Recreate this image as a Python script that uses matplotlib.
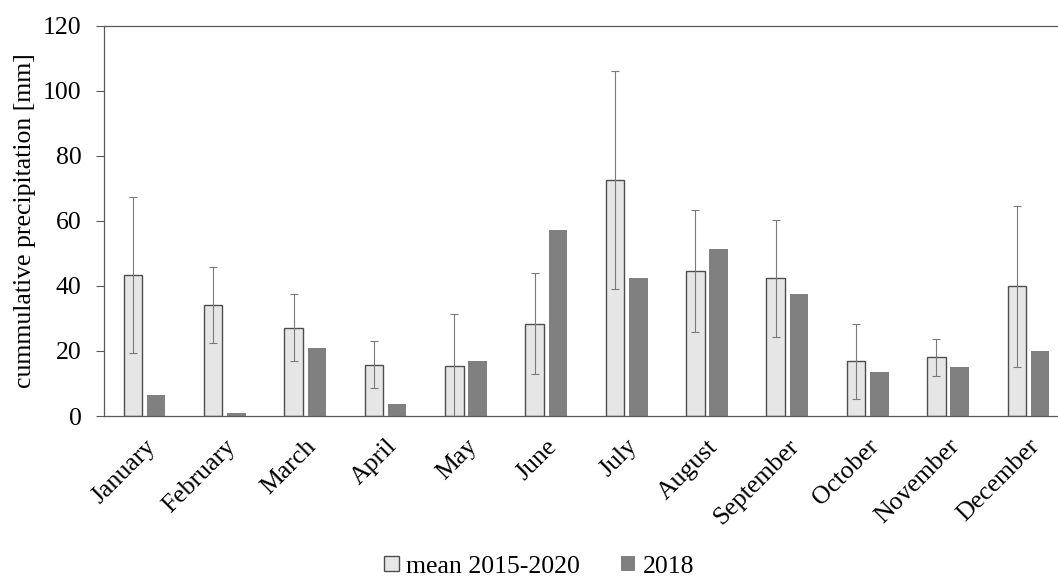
import numpy as np
import matplotlib
matplotlib.use('Agg')
from matplotlib import pyplot as plt

months = ['January', 'February', 'March', 'April', 'May', 'June', 'July',
          'August', 'September', 'October', 'November', 'December']
mean_2015_2020 = [43.3, 34.2, 27.2, 15.8, 15.4, 28.4, 72.6, 44.6, 42.3, 16.8, 18.0, 39.9]
sd_2015_2020 = [24.0, 11.7, 10.4, 7.3, 15.9, 15.6, 33.6, 18.7, 17.9, 11.6, 5.6, 24.8]
precip_2018 = [6.5, 0.8, 20.8, 3.7, 16.8, 57.2, 42.5, 51.4, 37.4, 13.5, 15.1, 20.0]
yticks = [0, 20, 40, 60, 80, 100, 120]

plt.rcParams['font.family'] = ['Liberation Serif', 'DejaVu Serif']
plt.rcParams['font.size'] = 18.5

fig = plt.figure(figsize=(10.58, 5.79), dpi=100)
ax = fig.add_axes([0.0986, 0.2815, 0.9114, 0.674])

x = np.arange(len(months))
w = 0.23
off = 0.145
axis_col = '#595959'

ax.bar(x - off, mean_2015_2020, w, color='#e6e6e6', edgecolor='#4d4d4d',
       linewidth=1.0, label='mean 2015-2020', zorder=2)
ax.bar(x + off, precip_2018, w, color='#808080', linewidth=0,
       label='2018', zorder=2)
ax.errorbar(x - off, mean_2015_2020, yerr=sd_2015_2020, fmt='none',
            ecolor='#7a7a7a', elinewidth=0.8, capsize=3, capthick=0.8, zorder=3)

ax.set_xlim(-0.5, len(months) - 0.5)
ax.set_ylim(0, 120)
ax.set_yticks(yticks)
ax.set_xticks(x)
ax.set_xticklabels(months, rotation=45, ha='right', rotation_mode='anchor')
ax.tick_params(axis='x', length=0, pad=14)
ax.tick_params(axis='y', length=5.5, width=0.8, color=axis_col, pad=11)
ax.set_ylabel('cummulative precipitation [mm]', labelpad=5)

for side in ['left', 'bottom', 'top']:
    ax.spines[side].set_color(axis_col)
    ax.spines[side].set_linewidth(0.9)
ax.spines['right'].set_visible(False)

fig.legend(loc='lower center', bbox_to_anchor=(0.51, 0.002), ncol=2,
           frameon=False, handlelength=0.55, handleheight=0.55,
           handletextpad=0.3, columnspacing=1.6, borderpad=0.0,
           borderaxespad=0.0)

fig.savefig('out.png', dpi=100)
